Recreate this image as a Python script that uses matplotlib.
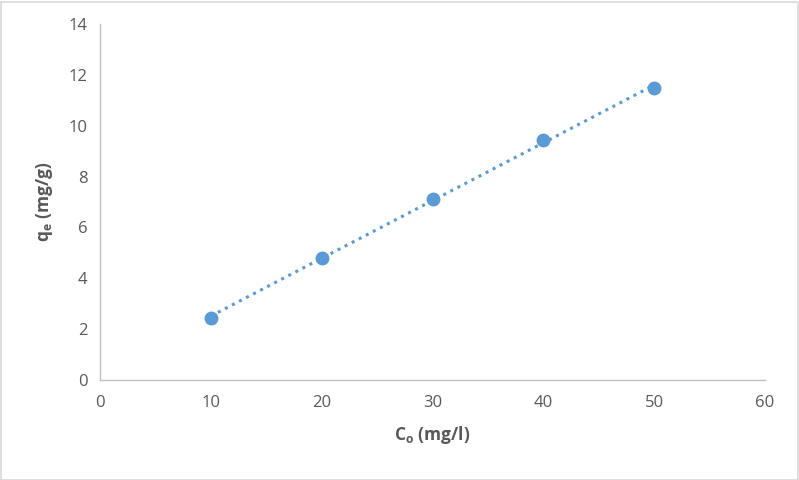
import numpy as np
import matplotlib
matplotlib.use("Agg")
import matplotlib.pyplot as plt

plt.rcParams['font.family'] = ['Open Sans', 'DejaVu Sans']

co = [10, 20, 30, 40, 50]
qe = [2.45, 4.80, 7.10, 9.45, 11.48]
xticks = [0, 10, 20, 30, 40, 50, 60]
yticks = [0, 2, 4, 6, 8, 10, 12, 14]

blue = '#5B9BD5'
fig = plt.figure(figsize=(7.99, 4.80), dpi=100)
ax = fig.add_axes([100/799, 1-380/480, 665/799, 356/480])

slope, intercept = np.polyfit(co, qe, 1)
xs = np.array([co[0], co[-1]])
ax.plot(xs, slope*xs + intercept, linestyle=(0, (1, 1.6)), color=blue, lw=2.2, zorder=2)
ax.plot(co, qe, 'o', color=blue, markersize=9, zorder=3)

ax.set_xlim(0, 60)
ax.set_ylim(0, 14)
ax.set_xticks(xticks)
ax.set_yticks(yticks)
for s in ['top', 'right']:
    ax.spines[s].set_visible(False)
for s in ['left', 'bottom']:
    ax.spines[s].set_color('#BFBFBF')
    ax.spines[s].set_linewidth(1.0)
ax.tick_params(length=0, labelsize=12, labelcolor='#595959', pad=11)
ax.tick_params(axis='y', pad=9)

ax.set_xlabel('C$_\\mathregular{o}$ (mg/l)', fontsize=12.5, fontweight='bold', color='#595959', labelpad=9)
ax.set_ylabel('q$_\\mathregular{e}$ (mg/g)', fontsize=12.5, fontweight='bold', color='#595959', labelpad=10)

fig.patches.append(plt.Rectangle((0.5/799, 0.5/480), 797/799, 478/480, transform=fig.transFigure,
                                 fill=False, edgecolor='#D9D9D9', lw=1.2))
fig.savefig('out.png', dpi=100)
